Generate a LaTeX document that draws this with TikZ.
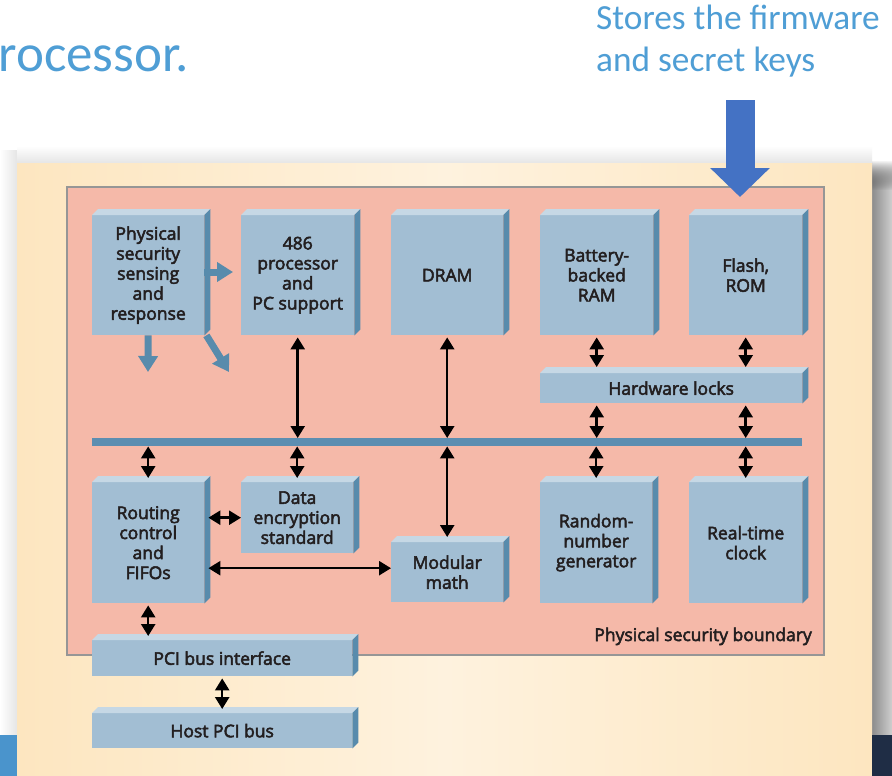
\documentclass[tikz,border=0pt]{standalone}
\usepackage{fontspec}
\setmainfont{Open Sans}
\newfontfamily\blkfont{Open Sans}[FakeBold=3]
\newfontfamily\slidefont{Carlito}
\usetikzlibrary{arrows.meta,fadings}

\definecolor{slideblue}{RGB}{79,158,213}
\definecolor{calloutblue}{RGB}{68,114,196}
\definecolor{creamA}{RGB}{253,230,192}
\definecolor{creamB}{RGB}{254,242,222}
\definecolor{pinkfill}{RGB}{245,185,169}
\definecolor{frameline}{RGB}{150,150,150}
\definecolor{blkfront}{RGB}{162,190,211}
\definecolor{blktop}{RGB}{198,216,229}
\definecolor{blkside}{RGB}{88,139,172}
\definecolor{busblue}{RGB}{92,142,177}
\definecolor{inktext}{RGB}{35,31,32}
\definecolor{barblue}{RGB}{74,148,204}
\definecolor{barnavy}{RGB}{31,45,69}

\tikzset{
  blk/.style={rectangle, fill=blkfront, inner sep=0pt, anchor=north west,
    align=center, text=inktext, font=\blkfont\fontsize{17.5}{20}\selectfont},
  link/.style={draw=black, line width=2.5pt,
    {Triangle[length=12pt,width=14pt]}-{Triangle[length=12pt,width=14pt]}},
  alarm/.style={draw=blkside, line width=7pt, -{Triangle[length=16pt,width=19pt]}},
  slidetext/.style={text=slideblue, inner sep=0pt},
}

% top and right faces of a block, drawn beside its front face
\newcommand\blockfaces[1]{%
  \fill[blktop] (#1.north west) -- ([shift={(6,-6)}]#1.north west)
    -- ([shift={(6,-6)}]#1.north east) -- (#1.north east) -- cycle;
  \fill[blkside] (#1.north east) -- ([shift={(6,-6)}]#1.north east)
    -- ([shift={(6,-6)}]#1.south east) -- (#1.south east) -- cycle;
}

\begin{document}
\begin{tikzpicture}[x=1pt,y=-1pt]
\useasboundingbox (0,0) rectangle (892,776);
\fill[white] (0,0) rectangle (892,776);

% slide text
\node[slidetext, font=\slidefont\fontsize{53}{60}\selectfont, anchor=base east]
  (title) at (189,71) {rocessor.};
\node[slidetext, font=\slidefont\fontsize{35.3}{41}\selectfont, anchor=base west]
  (note1) at (596,30) {Stores the firmware};
\node[slidetext, font=\slidefont\fontsize{35.3}{41}\selectfont, anchor=base west]
  (note2) at (596,71) {and secret keys};

% drop shadow of the figure panel
\fill[left color=white, right color=black!10] (0,150) rectangle (17,735);
\fill[top color=white, bottom color=black!10] (17,146) rectangle (872,163);
\fill[left color=black!45, right color=black!19] (872,190) rectangle (892,735);
\fill[left color=black!45, right color=black!19, path fading=north] (872,160) rectangle (892,190);

% figure panel
\fill[left color=creamA, right color=creamA, middle color=creamB] (17,163) rectangle (872,776);

% slide footer bars
\fill[barblue] (0,735) rectangle (17,776);
\fill[barnavy] (872,735) rectangle (892,776);

% physical security boundary
\draw[fill=pinkfill, draw=frameline, line width=1.3pt] (67,187) rectangle (824,655);
\node[anchor=base east, inner sep=0pt, text=inktext, font=\blkfont\fontsize{17.5}{20}\selectfont]
  (boundary) at (812,641) {Physical security boundary};

% blocks
\node[blk, minimum width=112pt, minimum height=120pt] (phys) at (92,215) {Physical\\security\\sensing\\and\\response};
\node[blk, minimum width=113pt, minimum height=120pt] (proc) at (241,215) {486\\processor\\and\\PC support};
\node[blk, minimum width=112pt, minimum height=120pt] (dram) at (391,215) {DRAM};
\node[blk, minimum width=113pt, minimum height=120pt] (bat) at (540,215) {Battery-\\backed\\RAM};
\node[blk, minimum width=113pt, minimum height=120pt] (flash) at (689,215) {Flash,\\ROM};
\node[blk, minimum width=262pt, minimum height=30pt] (hw) at (540,373) {Hardware locks};
\node[rectangle, fill=busblue, inner sep=0pt, anchor=north west,
  minimum width=710pt, minimum height=8pt] (bus) at (92,438) {};
\node[blk, minimum width=112pt, minimum height=121pt] (route) at (92,482) {Routing\\control\\and\\FIFOs};
\node[blk, minimum width=112pt, minimum height=71pt] (des) at (241,482) {Data\\encryption\\standard};
\node[blk, minimum width=112pt, minimum height=60pt] (mod) at (391,542) {Modular\\math};
\node[blk, minimum width=112pt, minimum height=121pt] (rng) at (540,482) {Random-\\number\\generator};
\node[blk, minimum width=113pt, minimum height=121pt] (rtc) at (689,482) {Real-time\\clock};
\node[blk, minimum width=260pt, minimum height=36pt] (pci) at (92,640) {PCI bus interface};
\node[blk, minimum width=260pt, minimum height=35pt] (host) at (92,713) {Host PCI bus};

\blockfaces{phys}
\blockfaces{proc}
\blockfaces{dram}
\blockfaces{bat}
\blockfaces{flash}
\blockfaces{hw}
\blockfaces{route}
\blockfaces{des}
\blockfaces{mod}
\blockfaces{rng}
\blockfaces{rtc}
\blockfaces{pci}
\blockfaces{host}

% tamper response outputs
\coordinate (alarmR) at (233,272);
\coordinate (alarmD) at (148,372);
\coordinate (alarmS) at (229,372);
\draw[alarm] (phys.east |- alarmR) -- (alarmR);
\draw[alarm] (phys.south) -- (alarmD);
\draw[alarm] ([xshift=2pt]phys.south east) -- (alarmS);

% data paths
\draw[link] ([yshift=-2pt]proc.south) -- (proc.south |- bus.north);
\draw[link] ([yshift=-2pt]dram.south) -- (dram.south |- bus.north);
\draw[link] ([yshift=-2pt]bat.south) -- ([yshift=6pt]bat.south |- hw.north);
\draw[link] ([yshift=-2pt]flash.south) -- ([yshift=6pt]flash.south |- hw.north);
\draw[link] ([yshift=-2pt]bat.south |- hw.south) -- (bat.south |- bus.north);
\draw[link] ([yshift=-2pt]flash.south |- hw.south) -- (flash.south |- bus.north);
\draw[link] (route.north |- bus.south) -- ([yshift=4pt]route.north);
\draw[link] (des.north |- bus.south) -- ([yshift=4pt]des.north);
\draw[link] (dram.south |- bus.south) -- ([yshift=5pt]mod.north);
\draw[link] (rng.north |- bus.south) -- ([yshift=4pt]rng.north);
\draw[link] (rtc.north |- bus.south) -- ([yshift=4pt]rtc.north);
\draw[link] ([xshift=4pt]route.east |- des.west) -- (des.west);
\draw[link] ([xshift=4pt,yshift=4pt]route.east |- mod.west) -- ([yshift=4pt]mod.west);
\draw[link] ([yshift=-2pt]route.south) -- ([yshift=4pt]route.south |- pci.north);
\draw[link] ([yshift=-2pt]pci.south) -- ([yshift=4pt]host.north);

% callout arrow onto the flash memory
\coordinate (calloutTop) at (740,100);
\coordinate (calloutTip) at (740,197);
\draw[draw=calloutblue, line width=29pt, -{Triangle[length=29pt,width=58pt]}] (calloutTop) -- (calloutTip);
\end{tikzpicture}
\end{document}
